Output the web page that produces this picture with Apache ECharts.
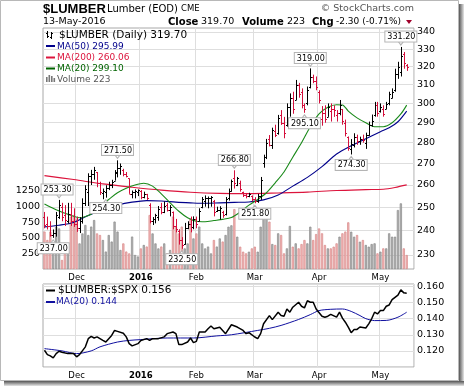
<!DOCTYPE html>
<html><head><meta charset="utf-8">
<script src="https://cdn.jsdelivr.net/npm/echarts@6/dist/echarts.min.js"></script>
<style>html,body{margin:0;padding:0;background:#fff}#c{width:464px;height:387px}</style>
</head><body><div id="c"></div>
<script>
// ---------- DATA ----------
const holidays = ['2015-11-26','2015-12-25','2016-01-01','2016-01-18','2016-02-15','2016-03-25'];
const firstDay = '2015-11-13', lastDay = '2016-05-13';
const opens = [246,243,242,238,239,246,250,246.5,244,247,
 244,243,241,244,252,257,264,265,266,261,
 256.5,257,258.5,260,262,266,268,267,265,263,
 256,257,257,257.5,254.5,256,251,244,245,246,
 250,248,251,249,248,242,240,236,234.5,241,
 243,241.5,245,244,250,253,254,254,253,248.5,
 249,248,247,254,257.5,263,260,261,257,255.5,
 255,255,253.5,253,255,270,273,282,279,286,
 285,294,290,289,298,303,302,310,306,299,
 300,309,314,312,306,292,295,293,296,297,
 294,295,297,290,283,277,279,283,281,282,
 280,284,289,294,299,296,297,297,300,303,
 307,316,317,327,321];
const highs = [248,246,244,240.5,248,253.3,252,251,252,252,
 249.6,246,245.8,254,259.9,265.4,267,268.4,266,261.5,
 258.4,259.9,261.5,262.4,266.9,271.5,270,267.5,266,263,
 257.5,258,258,257.7,257,256,251.8,245.8,247.2,250.6,
 252,252.6,252,251,248.2,245,240.6,237.3,243.3,244,
 246,246.1,246,249.6,254.6,255.3,254.8,255,253.3,250.3,
 250.5,248.5,254.6,258.4,262.5,266.8,263.7,262,257,256.4,
 256.5,255.3,254.5,256,263.7,274.2,281.9,283.8,287.5,289,
 294,296.5,293,300,305.3,306.2,312.6,311,308,300,
 309,319,315.5,314.5,307,298.6,299,300,300,299,
 296.5,301.8,297,291.6,283.1,281.8,284.7,284,283,284,
 285,290.6,294.2,300.8,300.8,300,299,300.8,306.2,308,
 318.8,322.7,331.2,328.3,321.4];
const lows = [241,240.5,237.5,237,237.5,245,244,242,243,242,
 241.6,239.5,239,243,250.6,250.6,260,262.4,259,255.5,
 253.6,254.3,257.7,258.6,262,263.5,264.7,264,263.5,256,
 254,254,255,253.6,254,253.3,243.1,242.4,243.1,244.2,
 247,247.5,248.2,246.1,240.6,239.3,234.2,232.5,234.2,240.6,
 239.3,240.6,241,244,249.6,250.3,249.6,250.3,246.1,248,
 244.7,245.5,246.5,253,257,258.4,259.5,257,254.6,254,
 254.5,252.6,251.8,252,253.3,268,272.1,278.2,277,282.8,
 284,288.9,282.2,288,293.1,294.6,301.8,303,297.4,295.1,
 299,308,310.8,307,300,288.5,290,293,290.6,293,
 290.6,293.8,289,283.1,276.1,274.3,277.7,279,279,280,
 277,283.4,288,293.1,293.1,295.2,293.1,297,299,302.7,
 306.2,313.2,314.5,318.8,317.6];
const closes = [242.5,242,238,239,246.5,251,246,244.5,247,244,
 243,241,244,252,258,264,265,267,261,257,
 257.5,258.5,260,261.5,265.5,268,269,265,264,256,
 257,257.5,257.8,254.5,256,254,244,245,246.5,249.5,
 248,250.5,249,250,242,240.5,236,234,241,243,
 241.5,245,243,248.5,253.5,254,254.3,254.6,248,249,
 249.8,246.5,253.5,257.5,262,261,263,258,255.5,255,
 256,253.5,253,255,262.5,273,280,279,286.5,284,
 292.5,290,285,298,303,297,310,305,299,297,
 307,314,312,309,302,295,292,298,297,296.5,
 295,299,291,285,277.5,279.5,283,281,282,281.5,
 284,289,291,299,295,298,294.5,299.5,305,306,
 316,320,326,322,319.7];
const volumes = [600,465,600,360,680,650,145,420,330,840,
 865,810,410,570,705,545,680,785,570,545,
 465,280,545,440,760,600,305,410,280,250,
 520,225,200,330,385,360,865,570,410,330,
 360,410,250,305,840,680,570,680,330,410,
 810,490,570,680,410,330,360,250,465,360,
 490,440,545,678,700,960,518,358,278,251,
 278,331,358,278,678,839,812,759,400,385,
 572,545,251,331,690,358,411,331,400,465,
 411,678,465,560,650,572,385,331,331,358,
 411,518,572,600,748,598,518,545,438,465,
 385,358,400,411,251,278,331,331,572,518,
 518,945,1052,331,224];
// moving averages: [bar index, value]
const ma50 = [[0,241.6],[5,242.3],[10,243.5],[15,246.5],[20,249],[25,251],[30,252.3],[35,253],[40,252.8],[45,252.3],[50,252],[55,251.8],[60,252],[65,252.2],[70,252.4],[75,253.3],[80,255.5],[85,259.5],[90,263.5],[95,268.5],[100,274.5],[105,278.5],[110,282],[115,285.5],[118,287.5],[121,290.5],[124,295.99]];
const ma200 = [[0,264.3],[10,262.5],[20,260.5],[30,259],[40,257.7],[50,256.7],[60,256.2],[70,256.1],[80,256.4],[90,256.8],[100,257.5],[110,257.9],[116,258.1],[120,258.9],[124,260.06]];
const ma20 = [[0,251.5],[4,249],[8,247],[12,245.5],[15,246.5],[17,248],[19,250.5],[22,253.5],[25,256.5],[28,258.5],[31,260],[34,260.8],[37,259.5],[40,256],[43,252],[46,248.3],[49,245.5],[52,244],[55,243.8],[58,244.3],[61,244.8],[64,245.6],[67,248],[70,251],[73,253.5],[76,256.5],[79,261],[82,266],[85,273],[88,280],[91,288],[94,294.5],[97,298],[100,299.3],[102,299.2],[104,296],[107,292.5],[110,290],[113,288],[116,288],[119,290],[122,294.5],[124,299.1]];
const ratio = [[0,.1204],[1,.1177],[2,.1169],[3,.1157],[4,.1183],[5,.1198],[6,.1192],[8,.1183],[10,.1183],[11,.1163],[12,.1177],[14,.1225],[15,.1276],[16,.129],[17,.128],[18,.1287],[20,.1265],[21,.1255],[22,.1276],[23,.1296],[24,.1327],[25,.1321],[27,.1309],[28,.1287],[29,.1245],[30,.1231],[32,.1245],[33,.1265],[35,.1276],[36,.1265],[37,.1276],[39,.1276],[41,.1287],[42,.1307],[44,.1317],[45,.1307],[46,.1239],[47,.1239],[49,.1255],[50,.128],[51,.1251],[52,.1259],[53,.1317],[55,.1317],[56,.1337],[57,.1354],[58,.1337],[60,.1347],[61,.1327],[62,.1307],[64,.1362],[66,.1348],[68,.1327],[69,.1307],[70,.1313],[72,.1286],[73,.1276],[74,.1307],[75,.1368],[77,.1419],[78,.1394],[80,.144],[81,.1419],[82,.1415],[83,.146],[84,.144],[85,.1471],[87,.1502],[88,.1477],[89,.1467],[90,.1511],[91,.1502],[92,.1502],[93,.146],[95,.1415],[96,.1409],[97,.1415],[98,.1427],[100,.1409],[101,.144],[102,.1403],[103,.1378],[104,.1348],[105,.1313],[106,.1333],[107,.1333],[108,.1348],[110,.1342],[111,.1368],[112,.1399],[113,.144],[114,.1429],[115,.145],[116,.145],[117,.1477],[118,.1485],[119,.1518],[121,.1546],[122,.1579],[123,.156],[124,.1558]];
const ratioMa20 = [[0,.1214],[6,.120],[11,.1183],[16,.120],[19,.1225],[25,.1255],[29,.1265],[33,.127],[42,.128],[51,.128],[59,.1293],[64,.13],[73,.1327],[77,.134],[81,.1358],[87,.1395],[91,.1425],[94,.145],[98,.1458],[102,.146],[105,.1445],[108,.1419],[110,.14],[113,.1388],[117,.1389],[121,.1409],[124,.144]];
const annotations = [[3,237.00,'low'],[5,253.30,'high'],[21,254.30,'low'],[25,271.50,'high'],[47,232.50,'low'],[65,266.80,'high'],[72,251.80,'low'],[89,295.10,'low'],[91,319.00,'high'],[105,274.30,'low'],[122,331.20,'high']];
const priceTicks = [230,240,250,260,270,280,290,300,310,320,330,340];
const volumeTicks = [250,500,750,1000,1250];
const ratioTicks = [0.12,0.13,0.14,0.15,0.16];
const monthNames = ['Jan','Feb','Mar','Apr','May','Jun','Jul','Aug','Sep','Oct','Nov','Dec'];

// ---------- BUILD ----------
function tradingDays(){
  const out=[]; let t=Date.parse(firstDay+'T00:00:00Z'); const end=Date.parse(lastDay+'T00:00:00Z');
  while(t<=end){ const d=new Date(t); const wd=d.getUTCDay(); const s=d.toISOString().slice(0,10);
    if(wd!==0&&wd!==6&&holidays.indexOf(s)<0) out.push(s); t+=86400000; }
  return out;
}
const days = tradingDays();
const categories = days.concat(['','']);
const monthStart = {};
days.forEach((d,i)=>{ if(i>0 && d.slice(5,7)!==days[i-1].slice(5,7)){ const m=+d.slice(5,7); monthStart[i]= m===1 ? '{b|'+d.slice(0,4)+'}' : monthNames[m-1]; } });
const isMonthStart = (idx)=> monthStart[idx]!==undefined;
const LN = Math.log;
const up = closes.map((c,i)=> i===0 ? c>=opens[0] : c>=closes[i-1]);
const RED='#d40f3c';

const xAxisCommon = (gi)=>({
  type:'category', gridIndex:gi, data:categories, boundaryGap:true,
  axisLine:{show:false}, axisTick:{show:false},
  axisLabel:{interval:isMonthStart, formatter:(v,i)=>monthStart[i]||'', margin:4, fontSize:8.5, color:'#000', fontFamily:'DejaVu Sans',
    rich:{b:{fontWeight:'bold', fontSize:8.5, fontFamily:'DejaVu Sans', color:'#000'}}},
  splitLine:{show:true, interval:isMonthStart, lineStyle:{color:'#dedede', width:1}}
});

const ohlcData = closes.map((c,i)=>[i, LN(opens[i]), LN(highs[i]), LN(lows[i]), LN(c), up[i]?1:0]);

const markData = annotations.map(a=>{
  const hi = a[2]==='high';
  const item = {coord:[a[0], LN(a[1])], value:a[1].toFixed(2),
    symbol: hi ? 'path://M0,0L6,0L3,4Z' : 'path://M3,0L6,4L0,4Z', symbolSize:[6,4], symbolOffset:[0, hi?-4:4],
    itemStyle:{color:'#fff', borderColor:'#b4b4b4', borderWidth:1},
    label:{show:true, position: hi?'top':'bottom', distance:-1, formatter:a[1].toFixed(2)}};
  if(a[0]===5) item.label.offset=[-2,0];
  return item;
});

const chart = echarts.init(document.getElementById('c'), null, {renderer:'canvas'});
const grad = (x2,y2)=> new echarts.graphic.LinearGradient(0,0,x2,y2,[{offset:0,color:'#555'},{offset:1,color:'#e6e6e6'}]);
const txt = (x,y,text,font,fill,align)=>({type:'text', x:x, y:y, silent:true, z:10,
  style:{text:text, font:font, fill:fill||'#000', align:align||'left', verticalAlign:'middle', textAlign:align||'left', textVerticalAlign:'middle'}});
const F = (s,b)=> (b?'bold ':'')+s+'px "DejaVu Sans"';

const option = {
  animation:false, backgroundColor:'#fff',
  textStyle:{fontFamily:'DejaVu Sans'},
  grid:[
    {left:43, top:28, width:371, height:241, show:true, borderColor:'#a8a8a8', borderWidth:1},
    {left:43, top:284, width:371, height:83, show:true, borderColor:'#a8a8a8', borderWidth:1}
  ],
  xAxis:[xAxisCommon(0), xAxisCommon(1)],
  yAxis:[
    {type:'value', gridIndex:0, position:'right', min:LN(224.4), max:LN(342.4),
      axisLine:{show:false}, axisTick:{show:false, customValues:priceTicks.map(LN)},
      axisLabel:{customValues:priceTicks.map(LN), formatter:v=>String(Math.round(Math.exp(v))), margin:3, fontSize:9.5, color:'#000'},
      splitLine:{show:true, lineStyle:{color:'#dedede', width:1}}},
    {type:'value', gridIndex:0, position:'left', min:0, max:3862, interval:250,
      axisLine:{show:false}, axisTick:{show:false},
      axisLabel:{formatter:v=> volumeTicks.indexOf(v)>=0 ? String(v) : '', margin:3, fontSize:9.5, color:'#000'},
      splitLine:{show:false}},
    {type:'value', gridIndex:1, position:'right', min:0.11, max:0.1615, interval:0.01,
      axisLine:{show:false}, axisTick:{show:false},
      axisLabel:{formatter:v=>{const t=ratioTicks.find(r=>Math.abs(r-v)<1e-6); return t!==undefined? t.toFixed(3):'';}, margin:3, fontSize:9.5, color:'#000'},
      splitLine:{show:true, lineStyle:{color:'#dedede', width:1}}}
  ],
  series:[
    {name:'Volume', type:'bar', xAxisIndex:0, yAxisIndex:1, barWidth:2.2, z:1, silent:true,
      data: volumes.map((v,i)=>({value:v, itemStyle: up[i] ? {color:'#b5b5b5', borderColor:'#8a8a8a', borderWidth:0.7} : {color:'#f2b8b8', borderColor:'#d88a8a', borderWidth:0.7}}))},
    {name:'MA200', type:'line', xAxisIndex:0, yAxisIndex:0, z:3, symbol:'none', smooth:0.3, silent:true,
      lineStyle:{color:'#dc143c', width:1.1}, data: ma200.map(p=>[p[0], LN(p[1])]),
      markPoint:{silent:true, z:8, label:{color:'#000', fontSize:8, fontFamily:'DejaVu Sans', backgroundColor:'#fff', borderColor:'#b4b4b4', borderWidth:1, padding:[1,1,0,2], lineHeight:9}, data: markData}},
    {name:'MA50', type:'line', xAxisIndex:0, yAxisIndex:0, z:3, symbol:'none', smooth:0.3, silent:true,
      lineStyle:{color:'#00008b', width:1.1}, data: ma50.map(p=>[p[0], LN(p[1])])},
    {name:'MA20', type:'line', xAxisIndex:0, yAxisIndex:0, z:3, symbol:'none', smooth:0.3, silent:true,
      lineStyle:{color:'#1a8a1a', width:1.1}, data: ma20.map(p=>[p[0], LN(p[1])])},
    {name:'OHLC', type:'custom', xAxisIndex:0, yAxisIndex:0, z:4, silent:true, data: ohlcData,
      renderItem:(params, api)=>{
        const i=api.value(0);
        const o=api.coord([i,api.value(1)]), h=api.coord([i,api.value(2)]), l=api.coord([i,api.value(3)]), c=api.coord([i,api.value(4)]);
        const x=Math.round(h[0])+0.5; const col = api.value(5)? '#000' : RED;
        const oy=Math.round(o[1])+0.5, cy=Math.round(c[1])+0.5;
        return {type:'group', children:[
          {type:'line', shape:{x1:x,y1:h[1],x2:x,y2:l[1]}, style:{stroke:col, lineWidth:1}},
          {type:'line', shape:{x1:x-1.5,y1:oy,x2:x,y2:oy}, style:{stroke:col, lineWidth:1}},
          {type:'line', shape:{x1:x,y1:cy,x2:x+1.5,y2:cy}, style:{stroke:col, lineWidth:1}}
        ]};
      }},
    {name:'Ratio', type:'line', xAxisIndex:1, yAxisIndex:2, z:4, symbol:'none', silent:true,
      lineStyle:{color:'#000', width:1.5}, data: ratio},
    {name:'RatioMA', type:'line', xAxisIndex:1, yAxisIndex:2, z:3, symbol:'none', smooth:0.3, silent:true,
      lineStyle:{color:'#1010a0', width:1}, data: ratioMa20}
  ],
  graphic:[
    {type:'rect', silent:true, z:0, shape:{x:0.5,y:0.5,width:458,height:380}, style:{fill:'none', stroke:'#b8b8b8', lineWidth:1}},
    {type:'rect', silent:true, z:0, shape:{x:459,y:4,width:5,height:382}, style:{fill:grad(1,0)}},
    {type:'rect', silent:true, z:0, shape:{x:4,y:381,width:460,height:5}, style:{fill:grad(0,1)}},
    txt(43,9,'$LUMBER','bold 13px "Liberation Sans"'),
    txt(107,9,'Lumber (EOD)',F(10)),
    txt(181,9,'CME',F(8.5)),
    txt(414,9,'\u00a9 StockCharts.com',F(9.5),'#555','right'),
    txt(43,22,'13-May-2016',F(9.5)),
    txt(168,22,'Close',F(10,true)),
    txt(201,22,'319.70',F(9.5)),
    txt(242,22,'Volume',F(10,true)),
    txt(287,22,'223',F(9.5)),
    txt(312,22,'Chg',F(10,true)),
    txt(336,22,'-2.30 (-0.71%)',F(9)),
    {type:'polygon', silent:true, z:10, shape:{points:[[406,20],[412,20],[409,24]]}, style:{fill:'#a0002a'}},
    // main legend
    {type:'line', silent:true, z:10, shape:{x1:47.5,y1:31,x2:47.5,y2:38}, style:{stroke:'#000',lineWidth:1}},
    {type:'line', silent:true, z:10, shape:{x1:46,y1:33.5,x2:47.5,y2:33.5}, style:{stroke:'#000',lineWidth:1}},
    {type:'line', silent:true, z:10, shape:{x1:47.5,y1:36.5,x2:49,y2:36.5}, style:{stroke:'#000',lineWidth:1}},
    {type:'line', silent:true, z:10, shape:{x1:51.5,y1:32,x2:51.5,y2:39}, style:{stroke:'#000',lineWidth:1}},
    {type:'line', silent:true, z:10, shape:{x1:50,y1:37.5,x2:51.5,y2:37.5}, style:{stroke:'#000',lineWidth:1}},
    {type:'line', silent:true, z:10, shape:{x1:51.5,y1:33.5,x2:53,y2:33.5}, style:{stroke:'#000',lineWidth:1}},
    txt(59,35,'$LUMBER (Daily) 319.70',F(10.5)),
    {type:'rect', silent:true, z:10, shape:{x:46,y:45,width:9,height:2}, style:{fill:'#00008b'}},
    txt(57,46.5,'MA(50) 295.99',F(9),'#00008b'),
    {type:'rect', silent:true, z:10, shape:{x:46,y:56.5,width:9,height:2}, style:{fill:'#dc143c'}},
    txt(57,58,'MA(200) 260.06',F(9),'#dc143c'),
    {type:'rect', silent:true, z:10, shape:{x:46,y:67.5,width:9,height:2}, style:{fill:'#006400'}},
    txt(57,69,'MA(20) 299.10',F(9),'#006400'),
    {type:'rect', silent:true, z:10, shape:{x:46,y:77,width:1.6,height:5}, style:{fill:'#777'}},
    {type:'rect', silent:true, z:10, shape:{x:48.5,y:75,width:1.6,height:7}, style:{fill:'#777'}},
    {type:'rect', silent:true, z:10, shape:{x:51,y:76,width:1.6,height:6}, style:{fill:'#777'}},
    {type:'rect', silent:true, z:10, shape:{x:53.5,y:78,width:1.6,height:4}, style:{fill:'#777'}},
    txt(57,79.5,'Volume 223',F(9),'#555'),
    // ratio legend
    {type:'rect', silent:true, z:10, shape:{x:46,y:289.5,width:9,height:2}, style:{fill:'#000'}},
    txt(58,290.5,'$LUMBER:$SPX 0.156',F(10.5)),
    {type:'rect', silent:true, z:10, shape:{x:46,y:301,width:9,height:2}, style:{fill:'#1010a0'}},
    txt(56,302,'MA(20) 0.144',F(9),'#1010a0')
  ]
};
chart.setOption(option);
</script>
</body></html>
